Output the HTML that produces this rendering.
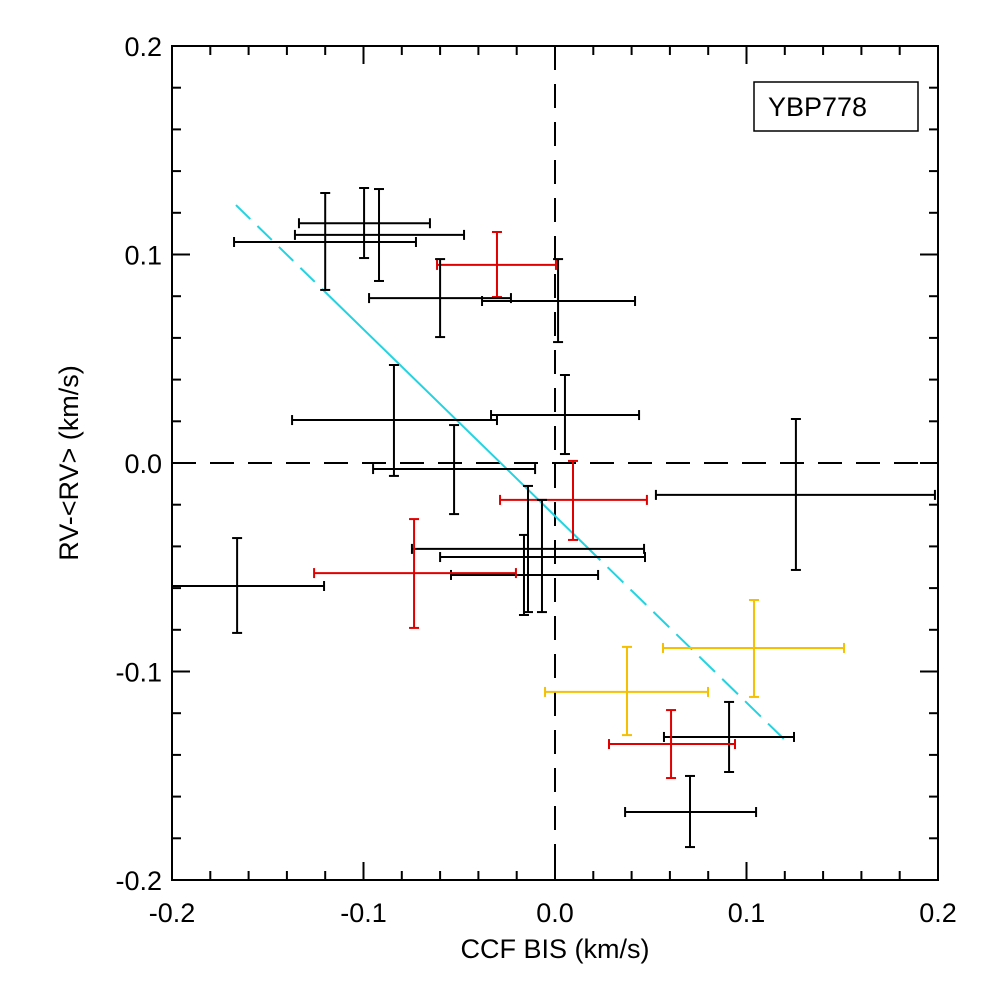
<!DOCTYPE html>
<html><head><meta charset="utf-8"><style>
html,body{margin:0;padding:0;background:#fff;}
svg{display:block;font-family:"Liberation Sans",Arial,sans-serif;}
</style></head><body>
<svg id="chart" width="987" height="986" viewBox="0 0 987 986" xmlns="http://www.w3.org/2000/svg"></svg>
<script>
const xVals=[-0.120,-0.0997,-0.0919,-0.0303,-0.060,0.0016,-0.0841,0.0052,-0.0527,0.1258,0.0094,-0.0141,-0.0068,-0.0162,-0.166,-0.0736,0.1039,0.0376,0.0909,0.0606,0.0705];
const xLo=[-0.1676,-0.1337,-0.1358,-0.0616,-0.0971,-0.0381,-0.1373,-0.0334,-0.095,0.0527,-0.0287,-0.0747,-0.060,-0.0543,-0.2115,-0.1258,0.0564,-0.0052,0.0569,0.0282,0.0366];
const xHi=[-0.0726,-0.0653,-0.0475,0.0005,-0.023,0.0418,-0.0303,0.0439,-0.0104,0.1984,0.048,0.0465,0.047,0.0225,-0.1206,-0.0204,0.1509,0.0799,0.1248,0.094,0.105];
const yVals=[0.106,0.115,0.1094,0.095,0.0791,0.0777,0.0206,0.023,-0.0029,-0.0153,-0.0177,-0.0412,-0.0451,-0.0537,-0.059,-0.0528,-0.0887,-0.1098,-0.1314,-0.1348,-0.1674];
const yHi=[0.1295,0.1319,0.1314,0.1108,0.0978,0.0978,0.047,0.0422,0.0182,0.0211,0.001,-0.011,-0.0177,-0.0345,-0.036,-0.0269,-0.0657,-0.0882,-0.1146,-0.1185,-0.1501];
const yLo=[0.083,0.0983,0.0873,0.0796,0.0604,0.058,-0.0062,0.0043,-0.0245,-0.0513,-0.0369,-0.0715,-0.0715,-0.0729,-0.0815,-0.0791,-0.1122,-0.1305,-0.1482,-0.1511,-0.1842];
const groups=["k","k","k","r","k","k","k","k","k","k","r","k","k","k","k","r","y","y","k","r","k"];
const xTicks=[-0.2,-0.1,0.0,0.1,0.2];
const xTickLabels=["-0.2","-0.1","0.0","0.1","0.2"];
const yTicks=[-0.2,-0.1,0.0,0.1,0.2];
const yTickLabels=["-0.2","-0.1","0.0","0.1","0.2"];
const fitSlope=[-0.895];
const fitIntercept=[-0.0254];
const fitRange=[-0.1666,0.1211];

const L=172,R=938,T=46,B=880;
const X=v=>L+(v+0.2)/0.4*(R-L);
const Y=v=>B-(v+0.2)/0.4*(B-T);
const svg=document.getElementById('chart');
const NS="http://www.w3.org/2000/svg";
function mk(tag,attrs,parent){const e=document.createElementNS(NS,tag);for(const k in attrs)e.setAttribute(k,attrs[k]);(parent||svg).appendChild(e);return e;}
const colors={k:"#000",r:"#e00000",y:"#f5c000"};

// zero dashed lines
let zl=mk('line',{x1:X(0),x2:X(0),y1:T,y2:B,stroke:"#000","stroke-width":2,"stroke-dasharray":"24,14"});


let zh=mk('line',{x1:L,x2:R,y1:Y(0),y2:Y(0),stroke:"#000","stroke-width":2,"stroke-dasharray":"24,14"});



// fit line
const fg=mk('g',{});


const fy=x=>fitSlope[0]*x+fitIntercept[0];
const segs=[[fitRange[0],-0.118,"20,10"],[-0.118,0.0155,"none"],[0.0155,fitRange[1],"22,10"]];
segs.forEach(s=>{mk('line',{x1:X(s[0]),y1:Y(fy(s[0])),x2:X(s[1]),y2:Y(fy(s[1])),stroke:"#22d3e0","stroke-width":2,"stroke-dasharray":s[2]},fg);});

// error bars
const cap=5;
xVals.forEach((xv,i)=>{
  const g=mk('g',{stroke:colors[groups[i]],"stroke-width":2,fill:"none"});
  
  
  const x0=Math.max(X(xLo[i]),L),x1=X(xHi[i]),yc=Y(yVals[i]),xc=X(xv),y0=Y(yHi[i]),y1=Y(yLo[i]);
  mk('line',{x1:x0,x2:x1,y1:yc,y2:yc},g);
  if(X(xLo[i])>=L)mk('line',{x1:x0,x2:x0,y1:yc-cap,y2:yc+cap},g);
  mk('line',{x1:x1,x2:x1,y1:yc-cap,y2:yc+cap},g);
  mk('line',{x1:xc,x2:xc,y1:y0,y2:y1},g);
  mk('line',{x1:xc-cap,x2:xc+cap,y1:y0,y2:y0},g);
  mk('line',{x1:xc-cap,x2:xc+cap,y1:y1,y2:y1},g);
});

// frame
const fr=mk('rect',{x:L,y:T,width:R-L,height:B-T,fill:"none",stroke:"#000","stroke-width":2});



// ticks
const tg=mk('g',{stroke:"#000","stroke-width":2});


for(let k=0;k<=20;k++){
  const v=-0.2+k*0.02, major=(k%5===0), len=major?18:9;
  const xp=X(v), yp=Y(v);
  mk('line',{x1:xp,x2:xp,y1:B,y2:B-len},tg);
  mk('line',{x1:xp,x2:xp,y1:T,y2:T+len},tg);
  mk('line',{x1:L,x2:L+len,y1:yp,y2:yp},tg);
  mk('line',{x1:R,x2:R-len,y1:yp,y2:yp},tg);
}
xTicks.forEach((v,i)=>{
  const t=mk('text',{x:X(v),y:922,"text-anchor":"middle","font-size":27,fill:"#000"});
  t.textContent=xTickLabels[i];
  
  
});
yTicks.forEach((v,i)=>{
  const t=mk('text',{x:162,y:Y(v)+10,"text-anchor":"end","font-size":27,fill:"#000"});
  t.textContent=yTickLabels[i];
  
  
});
const xt=mk('text',{x:555,y:958,"text-anchor":"middle","font-size":27,fill:"#000"});
xt.textContent="CCF BIS (km/s)";


const yt=mk('text',{x:0,y:0,"text-anchor":"middle","font-size":27,fill:"#000",transform:"translate(78,463) rotate(-90)"});
yt.textContent="RV-<RV> (km/s)";



const lg=mk('g',{});


mk('rect',{x:754,y:82,width:164,height:49,fill:"#fff",stroke:"#000","stroke-width":1.5},lg);
const lt=mk('text',{x:768,y:116,"font-size":27,fill:"#000"},lg);
lt.textContent="YBP778";
</script>
</body></html>
